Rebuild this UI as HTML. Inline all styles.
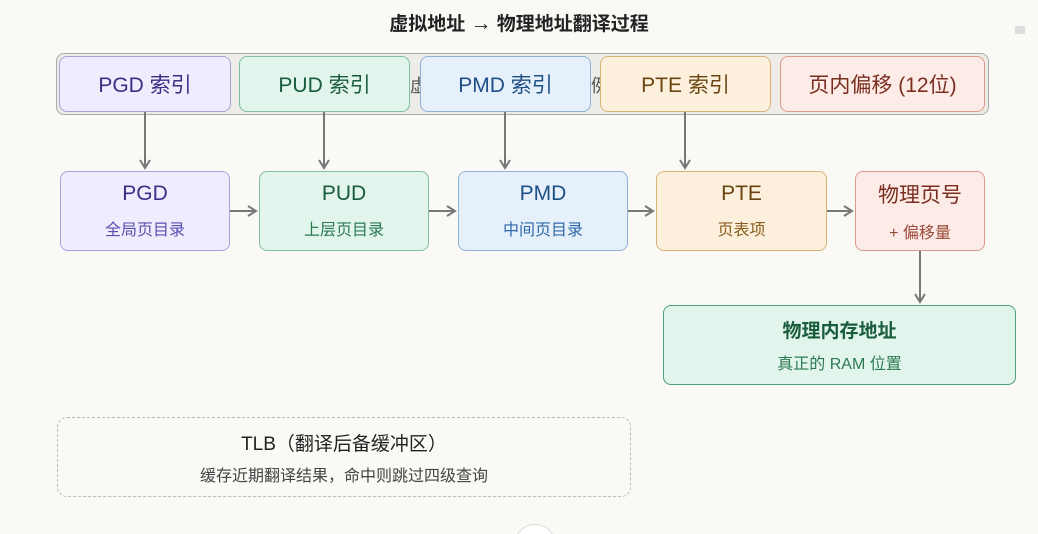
<!DOCTYPE html>
<html style="margin:0;width:1038px;height:534px;overflow:hidden"><head><meta charset="utf-8"><style>
body{margin:0;width:1038px;height:534px;background:#faf9f5;font-family:"Liberation Sans","Noto Sans CJK SC",sans-serif;position:relative;overflow:hidden}
.a{position:absolute;box-sizing:border-box}
.b{position:absolute;box-sizing:border-box;border-radius:8px;border:1px solid;display:flex;flex-direction:column;align-items:center;justify-content:center;text-align:center}
.t{font-size:20px}
.tt{font-size:21px}
.s{font-size:16px;margin-top:10px}
</style></head><body>
<div class="a" style="left:0;top:9px;width:1038px;text-align:center;font-size:19px;font-weight:bold;color:#222">虚拟地址 <span style="font-size:21px">→</span> 物理地址翻译过程</div>
<div class="a" style="left:1015px;top:26px;width:10px;height:8px;background:#ddd"></div>
<div class="a" style="left:56px;top:53px;width:933px;height:62px;border:1.5px solid #aaa;border-radius:8px;background:#eeece7"></div>
<div class="a" style="left:410px;top:72px;font-size:18px;color:#555">虚</div>
<div class="a" style="left:591px;top:72px;font-size:18px;color:#555">例</div>
<div class="b tt" style="left:59px;top:56px;width:172px;height:56px;background:#eeecfd;border-color:#a9a3dc;color:#3a2f86">PGD 索引</div>
<div class="b tt" style="left:239px;top:56px;width:171px;height:56px;background:#e1f5ec;border-color:#7fbe9e;color:#1a5c3b">PUD 索引</div>
<div class="b tt" style="left:420px;top:56px;width:171px;height:56px;background:#e6f0fb;border-color:#8fb1d8;color:#1e4f86">PMD 索引</div>
<div class="b tt" style="left:600px;top:56px;width:171px;height:56px;background:#fcefdc;border-color:#d8b27a;color:#6b4511">PTE 索引</div>
<div class="b tt" style="left:780px;top:56px;width:205px;height:56px;background:#fcebe6;border-color:#d99a8c;color:#7a2e1f">页内偏移 (12位)</div>

<div class="b" style="left:60px;top:171px;width:170px;height:80px;background:#eeecfd;border-color:#a9a3dc;color:#3a2f86"><div class="tt">PGD</div><div class="s" style="color:#5a4fb0">全局页目录</div></div>
<div class="b" style="left:259px;top:171px;width:170px;height:80px;background:#e1f5ec;border-color:#7fbe9e;color:#1a5c3b"><div class="tt">PUD</div><div class="s" style="color:#2d7a52">上层页目录</div></div>
<div class="b" style="left:458px;top:171px;width:170px;height:80px;background:#e6f0fb;border-color:#8fb1d8;color:#1e4f86"><div class="tt">PMD</div><div class="s" style="color:#2f68a8">中间页目录</div></div>
<div class="b" style="left:656px;top:171px;width:171px;height:80px;background:#fcefdc;border-color:#d8b27a;color:#6b4511"><div class="tt">PTE</div><div class="s" style="color:#8a5d1f">页表项</div></div>
<div class="b" style="left:855px;top:171px;width:130px;height:80px;background:#fcebe6;border-color:#d99a8c;color:#7a2e1f"><div class="tt">物理页号</div><div class="s" style="color:#9a4a38">+ 偏移量</div></div>

<div class="b" style="left:663px;top:305px;width:353px;height:80px;background:#e1f5ec;border-color:#4f9f78;color:#1a5c3b"><div style="font-size:19px;font-weight:bold">物理内存地址</div><div class="s" style="margin-top:7px;color:#2d7a52">真正的 RAM 位置</div></div>

<div class="b" style="left:57px;top:417px;width:574px;height:80px;border:1px dashed #bbb;border-radius:10px;color:#222"><div style="font-size:19px">TLB（翻译后备缓冲区）</div><div style="font-size:16px;margin-top:6px;color:#444">缓存近期翻译结果，命中则跳过四级查询</div></div>
<div class="a" style="left:514px;top:524px;width:42px;height:42px;border-radius:50%;border:1px solid #ddd;background:#fff"></div>

<svg class="a" style="left:0;top:0" width="1038" height="534">
<defs><marker id="m" markerWidth="12" markerHeight="12" refX="10" refY="6" orient="auto" markerUnits="userSpaceOnUse"><path d="M2,1 L10,6 L2,11" fill="none" stroke="#777" stroke-width="2"/></marker></defs>
<g stroke="#777" stroke-width="2" marker-end="url(#m)">
<line x1="145" y1="112" x2="145" y2="168"/>
<line x1="324" y1="112" x2="324" y2="168"/>
<line x1="505" y1="112" x2="505" y2="168"/>
<line x1="685" y1="112" x2="685" y2="168"/>
<line x1="230" y1="211" x2="256" y2="211"/>
<line x1="429" y1="211" x2="455" y2="211"/>
<line x1="628" y1="211" x2="653" y2="211"/>
<line x1="827" y1="211" x2="852" y2="211"/>
<line x1="920" y1="251" x2="920" y2="302"/>
</g></svg>
</body></html>
